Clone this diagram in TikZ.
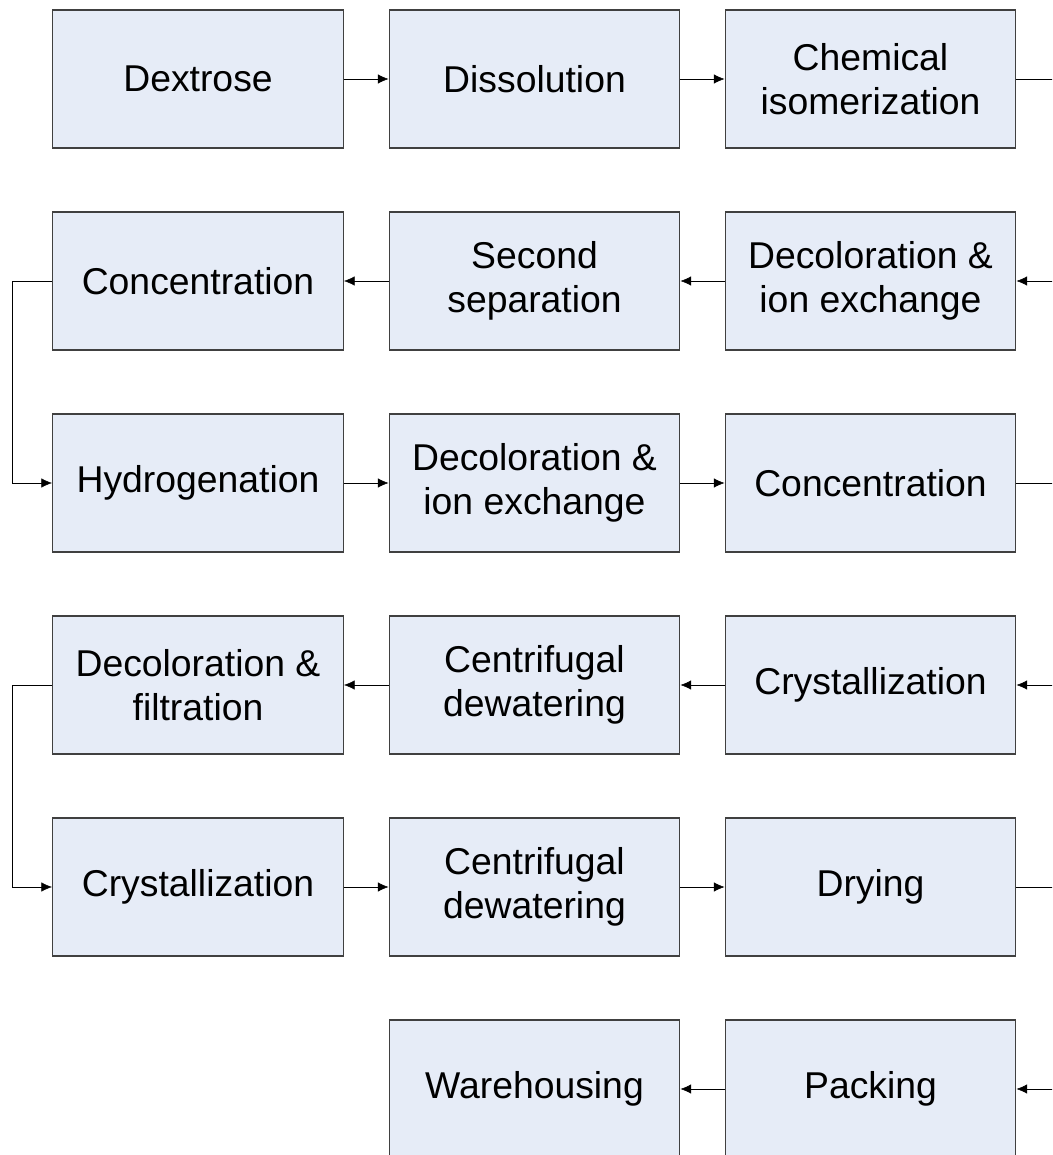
\documentclass[tikz,border=0pt]{standalone}
\usepackage{fontspec}
\setmainfont{Liberation Sans}
\usetikzlibrary{arrows.meta}
\definecolor{boxblue}{RGB}{230,236,247}
\begin{document}
\begin{tikzpicture}[x=0.75pt,y=-0.75pt,
        box/.style={draw=black!75,line width=0.9pt,fill=boxblue,
            minimum width=218pt,minimum height=103.5pt,inner sep=0pt,
            align=center,font=\fontsize{28}{33}\selectfont},
        >={Latex[length=8pt,width=7pt]}]
    \useasboundingbox (0,0) rectangle (1052,1155);
    \clip (0,0) rectangle (1052,1155);

    % row 1
    \node[box] (dex) at (198,79) {Dextrose};
    \node[box] (dis) at (534.5,79) {Dissolution};
    \node[box] (iso) at (870.5,79) {Chemical\\isomerization};
    % row 2
    \node[box] (con1) at (198,281) {Concentration};
    \node[box] (sep) at (534.5,281) {Second\\separation};
    \node[box] (dec1) at (870.5,281) {Decoloration \&\\ion exchange};
    % row 3
    \node[box] (hyd) at (198,483) {Hydrogenation};
    \node[box] (dec2) at (534.5,483) {Decoloration \&\\ion exchange};
    \node[box] (con2) at (870.5,483) {Concentration};
    % row 4
    \node[box] (fil) at (198,685) {Decoloration \&\\filtration};
    \node[box] (cen1) at (534.5,685) {Centrifugal\\dewatering};
    \node[box] (cry1) at (870.5,685) {Crystallization};
    % row 5
    \node[box] (cry2) at (198,887) {Crystallization};
    \node[box] (cen2) at (534.5,887) {Centrifugal\\dewatering};
    \node[box] (dry) at (870.5,887) {Drying};
    % row 6
    \node[box] (war) at (534.5,1089) {Warehousing};
    \node[box] (pack) at (870.5,1089) {Packing};

    \coordinate (left) at (12,0);
    \coordinate (right) at (1075,0);

    \draw[->] (dex) -- (dis);
    \draw[->] (dis) -- (iso);
    \draw[->] (iso.east) -- (iso.east -| right) |- (dec1.east);
    \draw[->] (dec1) -- (sep);
    \draw[->] (sep) -- (con1);
    \draw[->] (con1.west) -- (con1.west -| left) |- (hyd.west);
    \draw[->] (hyd) -- (dec2);
    \draw[->] (dec2) -- (con2);
    \draw[->] (con2.east) -- (con2.east -| right) |- (cry1.east);
    \draw[->] (cry1) -- (cen1);
    \draw[->] (cen1) -- (fil);
    \draw[->] (fil.west) -- (fil.west -| left) |- (cry2.west);
    \draw[->] (cry2) -- (cen2);
    \draw[->] (cen2) -- (dry);
    \draw[->] (dry.east) -- (dry.east -| right) |- (pack.east);
    \draw[->] (pack) -- (war);
\end{tikzpicture}
\end{document}
